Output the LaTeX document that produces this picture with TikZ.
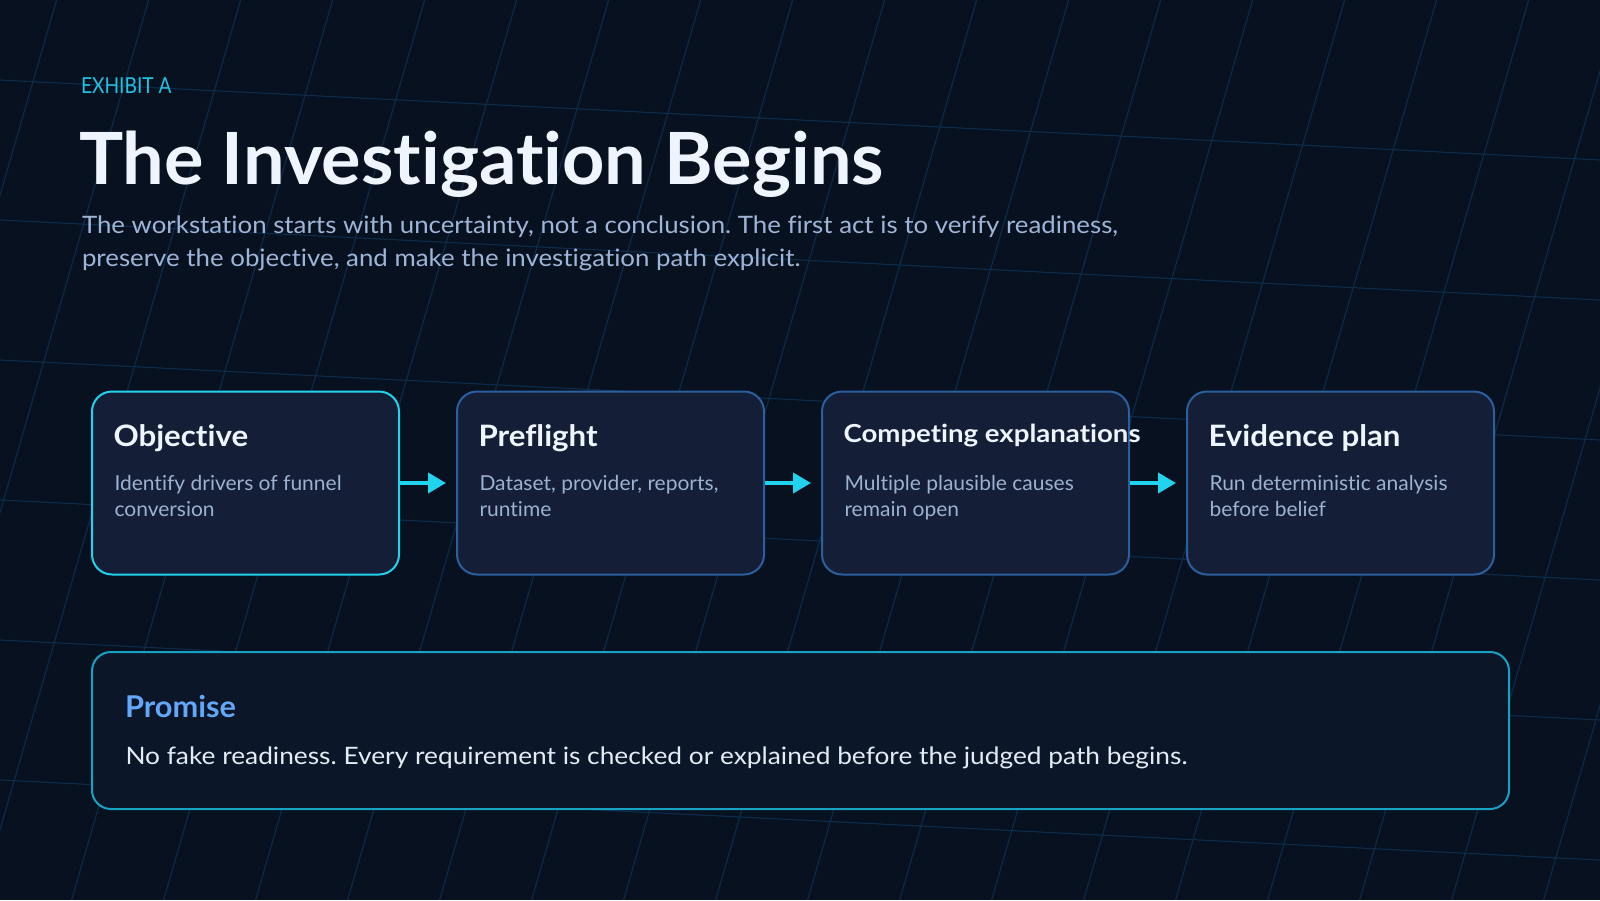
\documentclass[tikz,border=0pt]{standalone}
\usepackage{fontspec}
\usepackage{graphicx}
\setmainfont{Lato}[Ligatures={NoCommon}]
\usetikzlibrary{arrows.meta,calc}
\definecolor{bgc}{HTML}{07111F}
\definecolor{gridc}{HTML}{0D2A48}
\definecolor{cyanc}{HTML}{22D3EE}
\definecolor{exhc}{HTML}{1FC4E4}
\definecolor{titlec}{HTML}{EEF5FF}
\definecolor{subc}{HTML}{9FB5D8}
\definecolor{boxfill}{HTML}{141E37}
\definecolor{boxline}{HTML}{2C5F9E}
\definecolor{bodyc}{HTML}{9DB1D1}
\definecolor{promfill}{HTML}{0B1628}
\definecolor{promline}{HTML}{17A2C4}
\definecolor{promtc}{HTML}{63A8F8}
\definecolor{prombc}{HTML}{E4EBF5}
\newlength\tmpw
\newcommand\fTitle{\fontsize{36pt}{40pt}\selectfont\bfseries}
\newcommand\fExh{\fontsize{11pt}{13pt}\selectfont}
\newcommand\fSub{\fontsize{12pt}{16pt}\selectfont}
\newcommand\fBoxT{\fontsize{14.75pt}{17pt}\selectfont\bfseries}
\newcommand\fComp{\fontsize{12.4pt}{15pt}\selectfont\bfseries}
\newcommand\fBody{\fontsize{10.3pt}{13pt}\selectfont}
\newcommand\fProm{\fontsize{15pt}{18pt}\selectfont\bfseries}
\newcommand\fPBody{\fontsize{12pt}{15pt}\selectfont}
\newcommand\calib[3]{\setbox0=\hbox{\normalfont\frenchspacing #2}\tmpw=\wd0\relax
  \pgfmathsetmacro\calibtmp{#3/\tmpw}\global\let#1\calibtmp}
\tikzset{
  gridl/.style={draw=gridc, line width=0.6pt},
  card/.style={draw=boxline, line width=1pt, fill=boxfill, rounded corners=10pt,
    minimum width=153.5pt, minimum height=91.5pt, inner sep=0pt, outer sep=0pt},
  cardhi/.style={card, draw=cyanc},
  promisebox/.style={draw=promline, line width=1pt, fill=promfill, rounded corners=9.5pt,
    minimum width=708.5pt, minimum height=78.5pt, inner sep=0pt, outer sep=0pt},
  txt/.style={inner sep=0pt, outer sep=0pt, anchor=base west, font=\frenchspacing},
  arr/.style={draw=cyanc, line width=2pt, -{Triangle[length=9pt,width=10pt]},
    shorten >=5.5pt, shorten <=0.5pt},
}
\begin{document}
\frenchspacing
\calib\sTitle{\fTitle The Investigation Begins}{402.5}%
\calib\sExh{\fExh EXHIBIT A}{45.3}%
\calib\sSub{\fSub The workstation starts with uncertainty, not a conclusion. The first act is to verify readiness,}{518}%
\calib\sBoxT{\fBoxT Evidence plan}{96}%
\calib\sComp{\fComp Competing explanations}{148.5}%
\calib\sBody{\fBody Run deterministic analysis}{119}%
\calib\sProm{\fProm Promise}{55.5}%
\calib\sPBody{\fPBody No fake readiness. Every requirement is checked or explained before the judged path begins.}{531}%
\begin{tikzpicture}[x=0.5pt,y=-0.5pt]
\useasboundingbox (0,0) rectangle (1600,900);
\fill[bgc] (0,0) rectangle (1600,900);
\begin{scope}
\clip (0,0) rectangle (1600,900);
\foreach \k in {0,...,19} \draw[gridl] ({56.6+92*\k},0) -- ({56.6+92*\k-261},900);
\foreach \k in {0,...,5} \draw[gridl] (0,{80+140*\k}) -- (1600,{160+140*\k});
\end{scope}
% header
\node[txt, text=exhc] (exh) at (81,93.3) {\scalebox{\sExh}[1]{\fExh EXHIBIT A}};
\node[txt, text=titlec] (title) at (79,184.3) {\scalebox{\sTitle}[1]{\fTitle The Investigation Begins}};
\node[txt, text=subc] (sub1) at (82,233.3) {\scalebox{\sSub}[1]{\fSub The workstation starts with uncertainty, not a conclusion. The first act is to verify readiness,}};
\node[txt, text=subc] (sub2) at (82,266.7) {\scalebox{\sSub}[1]{\fSub preserve the objective, and make the investigation path explicit.}};
% cards
\node[cardhi] (b1) at (245.5,483) {};
\node[card] (b2) at (610.5,483) {};
\node[card] (b3) at (975.5,483) {};
\node[card] (b4) at (1340.5,483) {};
\draw[arr] (b1) -- (b2);
\draw[arr] (b2) -- (b3);
\draw[arr] (b3) -- (b4);
\node[txt, text=titlec] (b1t) at (113.5,446.7) {\scalebox{\sBoxT}[1]{\fBoxT Objective}};
\node[txt, text=bodyc] (b1a) at (114.5,490) {\scalebox{\sBody}[1]{\fBody Identify drivers of funnel}};
\node[txt, text=bodyc] (b1b) at (114.5,516) {\scalebox{\sBody}[1]{\fBody conversion}};
\node[txt, text=titlec] (b2t) at (478.5,446.7) {\scalebox{\sBoxT}[1]{\fBoxT Preflight}};
\node[txt, text=bodyc] (b2a) at (479.5,490) {\scalebox{\sBody}[1]{\fBody Dataset, provider, reports,}};
\node[txt, text=bodyc] (b2b) at (479.5,516) {\scalebox{\sBody}[1]{\fBody runtime}};
\node[txt, text=titlec] (b3t) at (843.5,442.7) {\scalebox{\sComp}[1]{\fComp Competing explanations}};
\node[txt, text=bodyc] (b3a) at (844.5,490) {\scalebox{\sBody}[1]{\fBody Multiple plausible causes}};
\node[txt, text=bodyc] (b3b) at (844.5,516) {\scalebox{\sBody}[1]{\fBody remain open}};
\node[txt, text=titlec] (b4t) at (1208.5,446.7) {\scalebox{\sBoxT}[1]{\fBoxT Evidence plan}};
\node[txt, text=bodyc] (b4a) at (1209.5,490) {\scalebox{\sBody}[1]{\fBody Run deterministic analysis}};
\node[txt, text=bodyc] (b4b) at (1209.5,516) {\scalebox{\sBody}[1]{\fBody before belief}};
% promise
\node[promisebox] (pb) at (800.5,730.5) {};
\node[txt, text=promtc] (pt) at (125,717.3) {\scalebox{\sProm}[1]{\fProm Promise}};
\node[txt, text=prombc] (pbody) at (125.5,764) {\scalebox{\sPBody}[1]{\fPBody No fake readiness. Every requirement is checked or explained before the judged path begins.}};
\end{tikzpicture}
\end{document}
